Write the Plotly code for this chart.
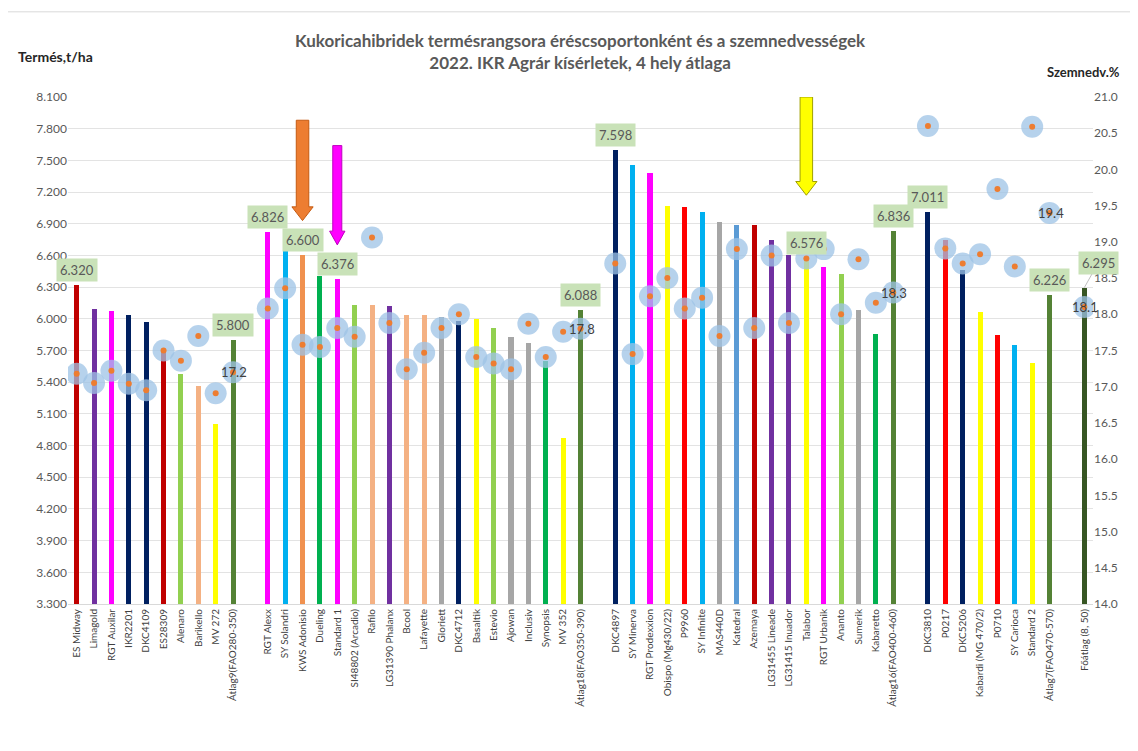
import plotly.graph_objects as go

# ---------------- data ----------------
categories = [
    "ES Midway", "Limagold", "RGT Auxilar", "IKR2201", "DKC4109", "ES28309", "Alenaro", "Barikello", "MV 272", "Átlag9(FAO280-350)",
    " ",
    "RGT Alexx", "SY Solandri", "KWS Adonisio", "Dueling", "Standard 1", "SI48802 (Arcadio)", "Rafilo", "LG31390 Phalanx", "Bcool",
    "Lafayette", "Gloriett", "DKC4712", "Basaltik", "Estevio", "Ajowan", "Inclusiv", "Synopsis", "MV 352", "Átlag18(FAO350-390)",
    "  ",
    "DKC4897", "SY Minerva", "RGT Prodexxion", "Obispo (Mg430/22)", "P9960", "SY Infinite", "MAS440D", "Katedral", "Azemaya",
    "LG31455 Lineade", "LG31415 Inuador", "Talabor", "RGT Urbanik", "Ananto", "Sumerik", "Kabaretto", "Átlag16(FAO400-460)",
    "   ",
    "DKC3810", "P0217", "DKC5206", "Kabardi (MG 470/2)", "P0710", "SY Carioca", "Standard 2", "Átlag7(FAO470-570)",
    "    ",
    "Főátlag (8, 50)",
]

yield_t_ha = [
    6.320, 6.09, 6.07, 6.04, 5.97, 5.69, 5.48, 5.36, 5.00, 5.800,
    None,
    6.826, 6.64, 6.600, 6.41, 6.376, 6.13, 6.13, 6.12, 6.04,
    6.04, 6.02, 5.98, 6.00, 5.91, 5.83, 5.77, 5.60, 4.87, 6.088,
    None,
    7.598, 7.46, 7.38, 7.07, 7.06, 7.01, 6.92, 6.89, 6.89,
    6.75, 6.60, 6.576, 6.49, 6.42, 6.08, 5.86, 6.836,
    None,
    7.011, 6.75, 6.46, 6.06, 5.85, 5.75, 5.58, 6.226,
    None,
    6.295,
]

moisture_pct = [
    17.18, 17.05, 17.22, 17.04, 16.95, 17.50, 17.36, 17.70, 16.91, 17.2,
    None,
    18.08, 18.36, 17.58, 17.55, 17.81, 17.69, 19.06, 17.88, 17.24,
    17.47, 17.81, 18.00, 17.41, 17.32, 17.24, 17.87, 17.41, 17.76, 17.8,
    None,
    18.70, 17.45, 18.25, 18.50, 18.08, 18.23, 17.70, 18.90, 17.81,
    18.81, 17.88, 18.77, 18.90, 18.00, 18.76, 18.16, 18.3,
    None,
    20.60, 18.91, 18.70, 18.83, 19.73, 18.66, 20.59, 19.4,
    None,
    18.1,
]

bar_colors = [
    "#c00000", "#7030a0", "#ff00ff", "#002060", "#002060", "#c00000", "#92d050", "#f4b183", "#ffff00", "#548235",
    "#ffffff",
    "#ff00ff", "#00b0f0", "#f0914f", "#00b050", "#ff00ff", "#92d050", "#f4b183", "#7030a0", "#f4b183",
    "#f4b183", "#a6a6a6", "#002060", "#ffff00", "#92d050", "#a6a6a6", "#a6a6a6", "#00b050", "#ffff00", "#548235",
    "#ffffff",
    "#002060", "#00b0f0", "#ff00ff", "#ffff00", "#ff0000", "#00b0f0", "#a6a6a6", "#5b9bd5", "#c00000",
    "#7030a0", "#7030a0", "#ffff00", "#ff00ff", "#92d050", "#a6a6a6", "#00b050", "#548235",
    "#ffffff",
    "#002060", "#ff0000", "#002060", "#ffff00", "#ff0000", "#00b0f0", "#ffff00", "#548235",
    "#ffffff",
    "#375623",
]

# bars whose yield value is labelled, and average bars whose moisture is labelled
yield_labelled = ["ES Midway", "Átlag9(FAO280-350)", "RGT Alexx", "KWS Adonisio", "Standard 1",
                  "Átlag18(FAO350-390)", "DKC4897", "Talabor", "Átlag16(FAO400-460)", "DKC3810",
                  "Átlag7(FAO470-570)"]
moisture_labelled = ["Átlag9(FAO280-350)", "Átlag18(FAO350-390)", "Átlag16(FAO400-460)",
                     "Átlag7(FAO470-570)", "Főátlag (8, 50)"]
highlight_arrows = [("KWS Adonisio", 7.88, 6.93, "#ed7d31", "#c55a11", 0.36),
                    ("Standard 1", 7.64, 6.70, "#ff00ff", "#c000c0", 0.26),
                    ("Talabor", 8.10, 7.17, "#ffff00", "#a0a000", 0.36)]

FONT = "Lato, 'Open Sans', sans-serif"
idx = list(range(len(categories)))

fig = go.Figure()
fig.add_trace(go.Bar(x=idx, y=yield_t_ha, marker_color=bar_colors, width=0.29,
                     marker_line_width=0, showlegend=False, yaxis="y"))
fig.add_trace(go.Scatter(x=idx, y=moisture_pct, mode="markers", yaxis="y2", showlegend=False,
                         marker=dict(size=22, color="rgba(157,195,230,0.75)", line_width=0)))
fig.add_trace(go.Scatter(x=idx, y=moisture_pct, mode="markers", yaxis="y2", showlegend=False,
                         marker=dict(size=6, color="#ed7d31", line_width=0)))

annotations = []
for name in yield_labelled:
    i = categories.index(name)
    annotations.append(dict(x=i, y=yield_t_ha[i], xref="x", yref="y", text=f"{yield_t_ha[i]:.3f}",
                            showarrow=False, yanchor="middle", yshift=15,
                            bgcolor="#c9e2b8", borderpad=3,
                            font=dict(family=FONT, size=13, color="#595959")))
# grand mean label with leader line
i_f = categories.index("Főátlag (8, 50)")
annotations.append(dict(x=i_f, y=yield_t_ha[i_f], xref="x", yref="y", text=f"{yield_t_ha[i_f]:.3f}",
                        showarrow=True, arrowhead=0, arrowwidth=1, arrowcolor="#bfbfbf",
                        ax=14, ay=-25, bgcolor="#c9e2b8", borderpad=3,
                        font=dict(family=FONT, size=13, color="#595959")))
for name in moisture_labelled:
    i = categories.index(name)
    annotations.append(dict(x=i, y=moisture_pct[i], xref="x", yref="y2", text=f"{moisture_pct[i]:.1f}",
                            showarrow=False, xshift=1,
                            font=dict(family=FONT, size=13, color="#404040")))

annotations += [
    dict(xref="paper", yref="paper", x=0.5, y=1.089, xanchor="center", yanchor="middle", showarrow=False,
         text="<b>Kukoricahibridek termésrangsora éréscsoportonként és a szemnedvességek<br>2022. IKR Agrár kísérletek, 4 hely átlaga</b>",
         font=dict(family=FONT, size=17, color="#595959")),
    dict(xref="paper", yref="paper", x=-0.051, y=1.079, xanchor="left", yanchor="middle", showarrow=False,
         text="<b>Termés,t/ha</b>", font=dict(family=FONT, size=14, color="#262626")),
    dict(xref="paper", yref="paper", x=0.953, y=1.049, xanchor="left", yanchor="middle", showarrow=False,
         text="<b>Szemnedv.%</b>", font=dict(family=FONT, size=13, color="#262626")),
]

shapes = [dict(type="rect", xref="paper", yref="paper", x0=-0.0615, x1=1.1, y0=-0.5, y1=1.168,
               line=dict(color="#d9d9d9", width=1), fillcolor="rgba(0,0,0,0)", layer="below")]
for name, ytop, ytip, fill, edge, hw in highlight_arrows:
    c = categories.index(name)
    hh = 0.13
    hwh = hw * 1.7
    path = (f"M {c-hw},{ytop} L {c+hw},{ytop} L {c+hw},{ytip+hh} L {c+hwh},{ytip+hh} "
            f"L {c},{ytip} L {c-hwh},{ytip+hh} L {c-hw},{ytip+hh} Z")
    shapes.append(dict(type="path", xref="x", yref="y", path=path, fillcolor=fill,
                       line=dict(color=edge, width=1), layer="above"))

fig.update_layout(
    width=1138, height=751,
    margin=dict(l=60, r=53, t=89, b=155),
    paper_bgcolor="white", plot_bgcolor="white",
    font=dict(family=FONT, color="#595959"),
    bargap=0,
    annotations=annotations,
    shapes=shapes,
    xaxis=dict(range=[-0.5, len(categories) - 0.5], tickmode="array", tickvals=idx, ticktext=categories,
               tickangle=-90, tickfont=dict(size=10, color="#404040"), showgrid=False,
               showline=True, linecolor="#d9d9d9", ticks="", zeroline=False),
    yaxis=dict(range=[3.3, 8.1], tick0=3.3, dtick=0.3, tickformat=".3f", showgrid=True,
               gridcolor="#e3e3e3", zeroline=False, tickfont=dict(size=12, color="#595959"),
               ticks="", ticklen=0),
    yaxis2=dict(range=[14, 21], tick0=14, dtick=0.5, tickformat=".1f", overlaying="y", side="right",
                showgrid=False, zeroline=False, tickfont=dict(size=12, color="#595959")),
)

fig.write_html("out.html")
